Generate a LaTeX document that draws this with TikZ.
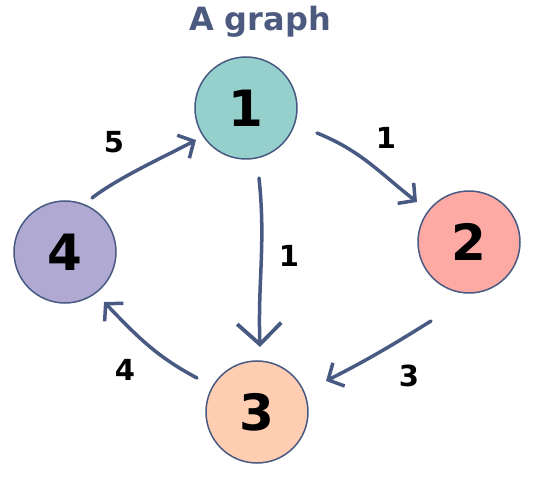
\documentclass[tikz,border=0pt]{standalone}
\usepackage{fontspec}
\setmainfont{DejaVu Sans}
\usetikzlibrary{arrows.meta,calc}
\definecolor{edgecol}{HTML}{485A82}
\definecolor{titlecol}{HTML}{4B5A7E}
\definecolor{cA}{HTML}{96D0CC}
\definecolor{cB}{HTML}{FCAAA3}
\definecolor{cC}{HTML}{FECDB2}
\definecolor{cD}{HTML}{B0A9D2}
\tikzset{
  vert/.style={circle,draw=edgecol,line width=1.5pt,minimum size=102pt,inner sep=0pt,font=\fontsize{50}{50}\selectfont\bfseries},
  conn/.style={draw=edgecol,line width=3.5pt,line cap=round,line join=round,-{Straight Barb[length=12pt,width=26pt,line width=3.5pt]}},
  bigconn/.style={conn,-{Straight Barb[length=21pt,width=44pt,line width=3.8pt]}},
  wlabel/.style={font=\fontsize{29}{29}\selectfont\bfseries,text=black},
}
\begin{document}
\begin{tikzpicture}[x=1pt,y=-1pt]
\useasboundingbox (0,0) rectangle (542,484);
\node[font=\fontsize{32}{32}\selectfont\bfseries,text=titlecol] (title) at (260,22) {A graph};
\node[vert,fill=cA] (n1) at (246,108) {1};
\node[vert,fill=cB] (n2) at (469,242) {2};
\node[vert,fill=cC] (n3) at (257,412) {3};
\node[vert,fill=cD] (n4) at (65,252) {4};
% edges
\draw[conn] ($(n4)+(27,-54)$) to[out=38,in=208,looseness=0.7] ($(n1)+(-50,32)$);
\draw[conn] ($(n1)+(71,25)$) to[out=-22,in=142] ($(n2)+(-52,-40)$);
\draw[bigconn] ($(n1)+(13,70)$) to[out=-84,in=92] ($(n3)+(3,-65)$);
\draw[conn] ($(n2)+(-38,79)$) to[out=212,in=27] ($(n3)+(69,-31)$);
\draw[conn] ($(n3)+(-60,-34)$) to[out=152,in=-46] ($(n4)+(39,50)$);
% labels
\node[wlabel] (l41) at (114,142) {5};
\node[wlabel] (l12) at (386,138) {1};
\node[wlabel] (l13) at (289,256) {1};
\node[wlabel] (l23) at (409,376) {3};
\node[wlabel] (l34) at (125,370) {4};
\end{tikzpicture}
\end{document}
